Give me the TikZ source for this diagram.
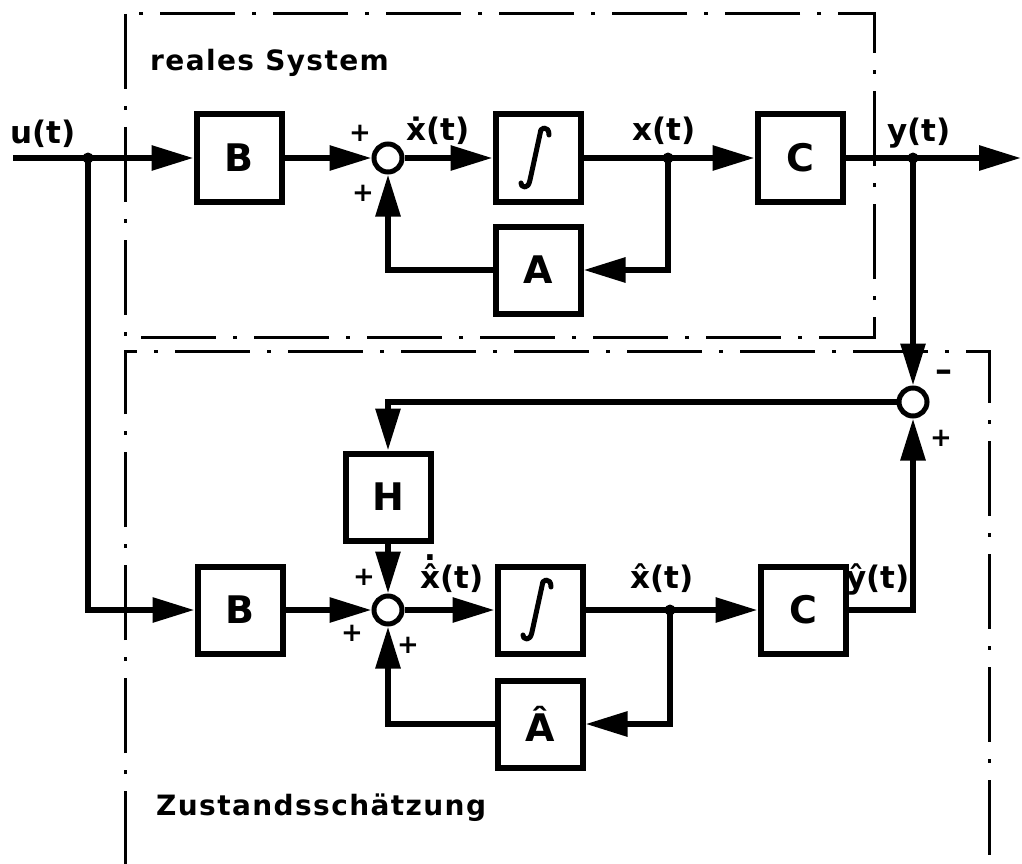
\documentclass[tikz,border=0pt]{standalone}
\usepackage{fontspec}
\setmainfont{DejaVu Sans}
\newfontfamily\ttlfont{DejaVu Sans}[LetterSpace=5]
\usetikzlibrary{arrows.meta}
\newcommand\dotabove[2]{\ooalign{#1\cr\hidewidth\raisebox{#2}{.}\hidewidth\cr}}
\begin{document}
\begin{tikzpicture}[x=1pt,y=-1pt,
 blk/.style={draw,line width=6pt,minimum width=85pt,minimum height=87pt,inner sep=0pt,font=\fontsize{38}{40}\selectfont\bfseries},
 sumc/.style={draw,circle,fill=white,line width=5pt,minimum size=28pt,inner sep=0pt},
 sig/.style={line width=6pt},
 arr/.style={sig,-{Triangle[length=42pt,width=24pt]}},
 lbl/.style={font=\fontsize{31}{33}\selectfont\bfseries,inner sep=0pt,anchor=base},
 sgn/.style={font=\fontsize{26}{28}\selectfont\bfseries,inner sep=0pt},
 ttl/.style={font=\ttlfont\fontsize{28}{30}\selectfont\bfseries,inner sep=0pt,anchor=base west},
 frame/.style={line width=3pt,dash pattern=on 75pt off 17pt on 4pt off 17pt},
 jdot/.style={circle,fill,inner sep=0pt,minimum size=11pt},
 intg/.style={line width=5pt,line cap=round,line join=round}]
\useasboundingbox (0,0) rectangle (1022,864);
% frames
\draw[frame] (125,14) rectangle (874,337);
\draw[frame] (125,866) -- (125,351) -- (989,351) -- (989,866);
\node[ttl] (t1) at (150,71) {reales System};
\node[ttl] (t2) at (156,815) {Zustandsschätzung};
% upper system
\node[jdot] (J0) at (88,158) {};
\node[blk] (B1) at (239,158) {B};
\node[sumc] (S1) at (388,158) {};
\node[blk] (I1) at (538,158) {};
\node[jdot] (J1) at (668,158) {};
\node[blk] (C1) at (800,158) {C};
\node[jdot] (J2) at (913,158) {};
\node[blk] (A1) at (538,270) {A};
\coordinate (uin) at (13,158);
\coordinate (yout) at (1021,158);
% lower system
\node[sumc] (S2) at (913,402) {};
\node[blk] (H) at (388,497) {H};
\node[blk] (B2) at (240,610) {B};
\node[sumc] (S3) at (388,610) {};
\node[blk] (I2) at (540,610) {};
\node[jdot] (J3) at (670,610) {};
\node[blk] (C2) at (803,610) {C};
\node[blk] (A2) at (540,724) {Â};
% integral signs
\foreach \n in {I1,I2}{
\begin{scope}[shift={(\n.center)}]
\draw[intg] (11,-23) .. controls (11,-28) and (9,-30) .. (6,-30) .. controls (3,-30) and (2,-27) .. (2,-24) -- (-8,22) .. controls (-9,27) and (-11,29) .. (-13,29) .. controls (-16,29) and (-17,27) .. (-17,25);
\end{scope}}
% connectors upper
\draw[sig] (uin) -- (J0.center);
\draw[arr] (J0.center) -- (B1.west);
\draw[arr] (B1.east) -- (S1.west);
\draw[arr] (S1.east) -- (I1.west);
\draw[sig] (I1.east) -- (J1.center);
\draw[arr] (J1.center) -- (C1.west);
\draw[sig] (C1.east) -- (J2.center);
\draw[arr] (J2.center) -- (yout);
\draw[arr] (J1.center) |- (A1.east);
\draw[arr] (A1.west) -| (S1.south);
% connectors lower
\draw[arr] (J2.center) -- (S2.north);
\draw[arr] (J0.center) |- (B2.west);
\draw[arr] (B2.east) -- (S3.west);
\draw[arr] (S3.east) -- (I2.west);
\draw[sig] (I2.east) -- (J3.center);
\draw[arr] (J3.center) -- (C2.west);
\draw[arr] (J3.center) |- (A2.east);
\draw[arr] (A2.west) -| (S3.south);
\draw[arr] (C2.east) -| (S2.south);
\draw[arr] (S2.west) -| (H.north);
\draw[arr] (H.south) -- (S3.north);
% labels
\node[lbl] (lu) at (43,143) {u(t)};
\node[lbl] (lxd) at (438,140) {ẋ(t)};
\node[lbl] (lx) at (664,140) {x(t)};
\node[lbl] (ly) at (919,141) {y(t)};
\node[lbl] (lxhd) at (452,588) {\dotabove{x̂}{0.9em}(t)};
\node[lbl] (lxh) at (662,588) {x̂(t)};
\node[lbl] (lyh) at (878,588) {ŷ(t)};
% signs
\node[sgn] (p1) at (360,133) {+};
\node[sgn] (p2) at (363,193) {+};
\node[sgn] (p3) at (364,577) {+};
\node[sgn] (p4) at (352,633) {+};
\node[sgn] (p5) at (408,645) {+};
\node[sgn,font=\fontsize{34}{36}\selectfont\bfseries] (m1) at (944,376) {–};
\node[sgn] (p6) at (941,438) {+};
\end{tikzpicture}
\end{document}
